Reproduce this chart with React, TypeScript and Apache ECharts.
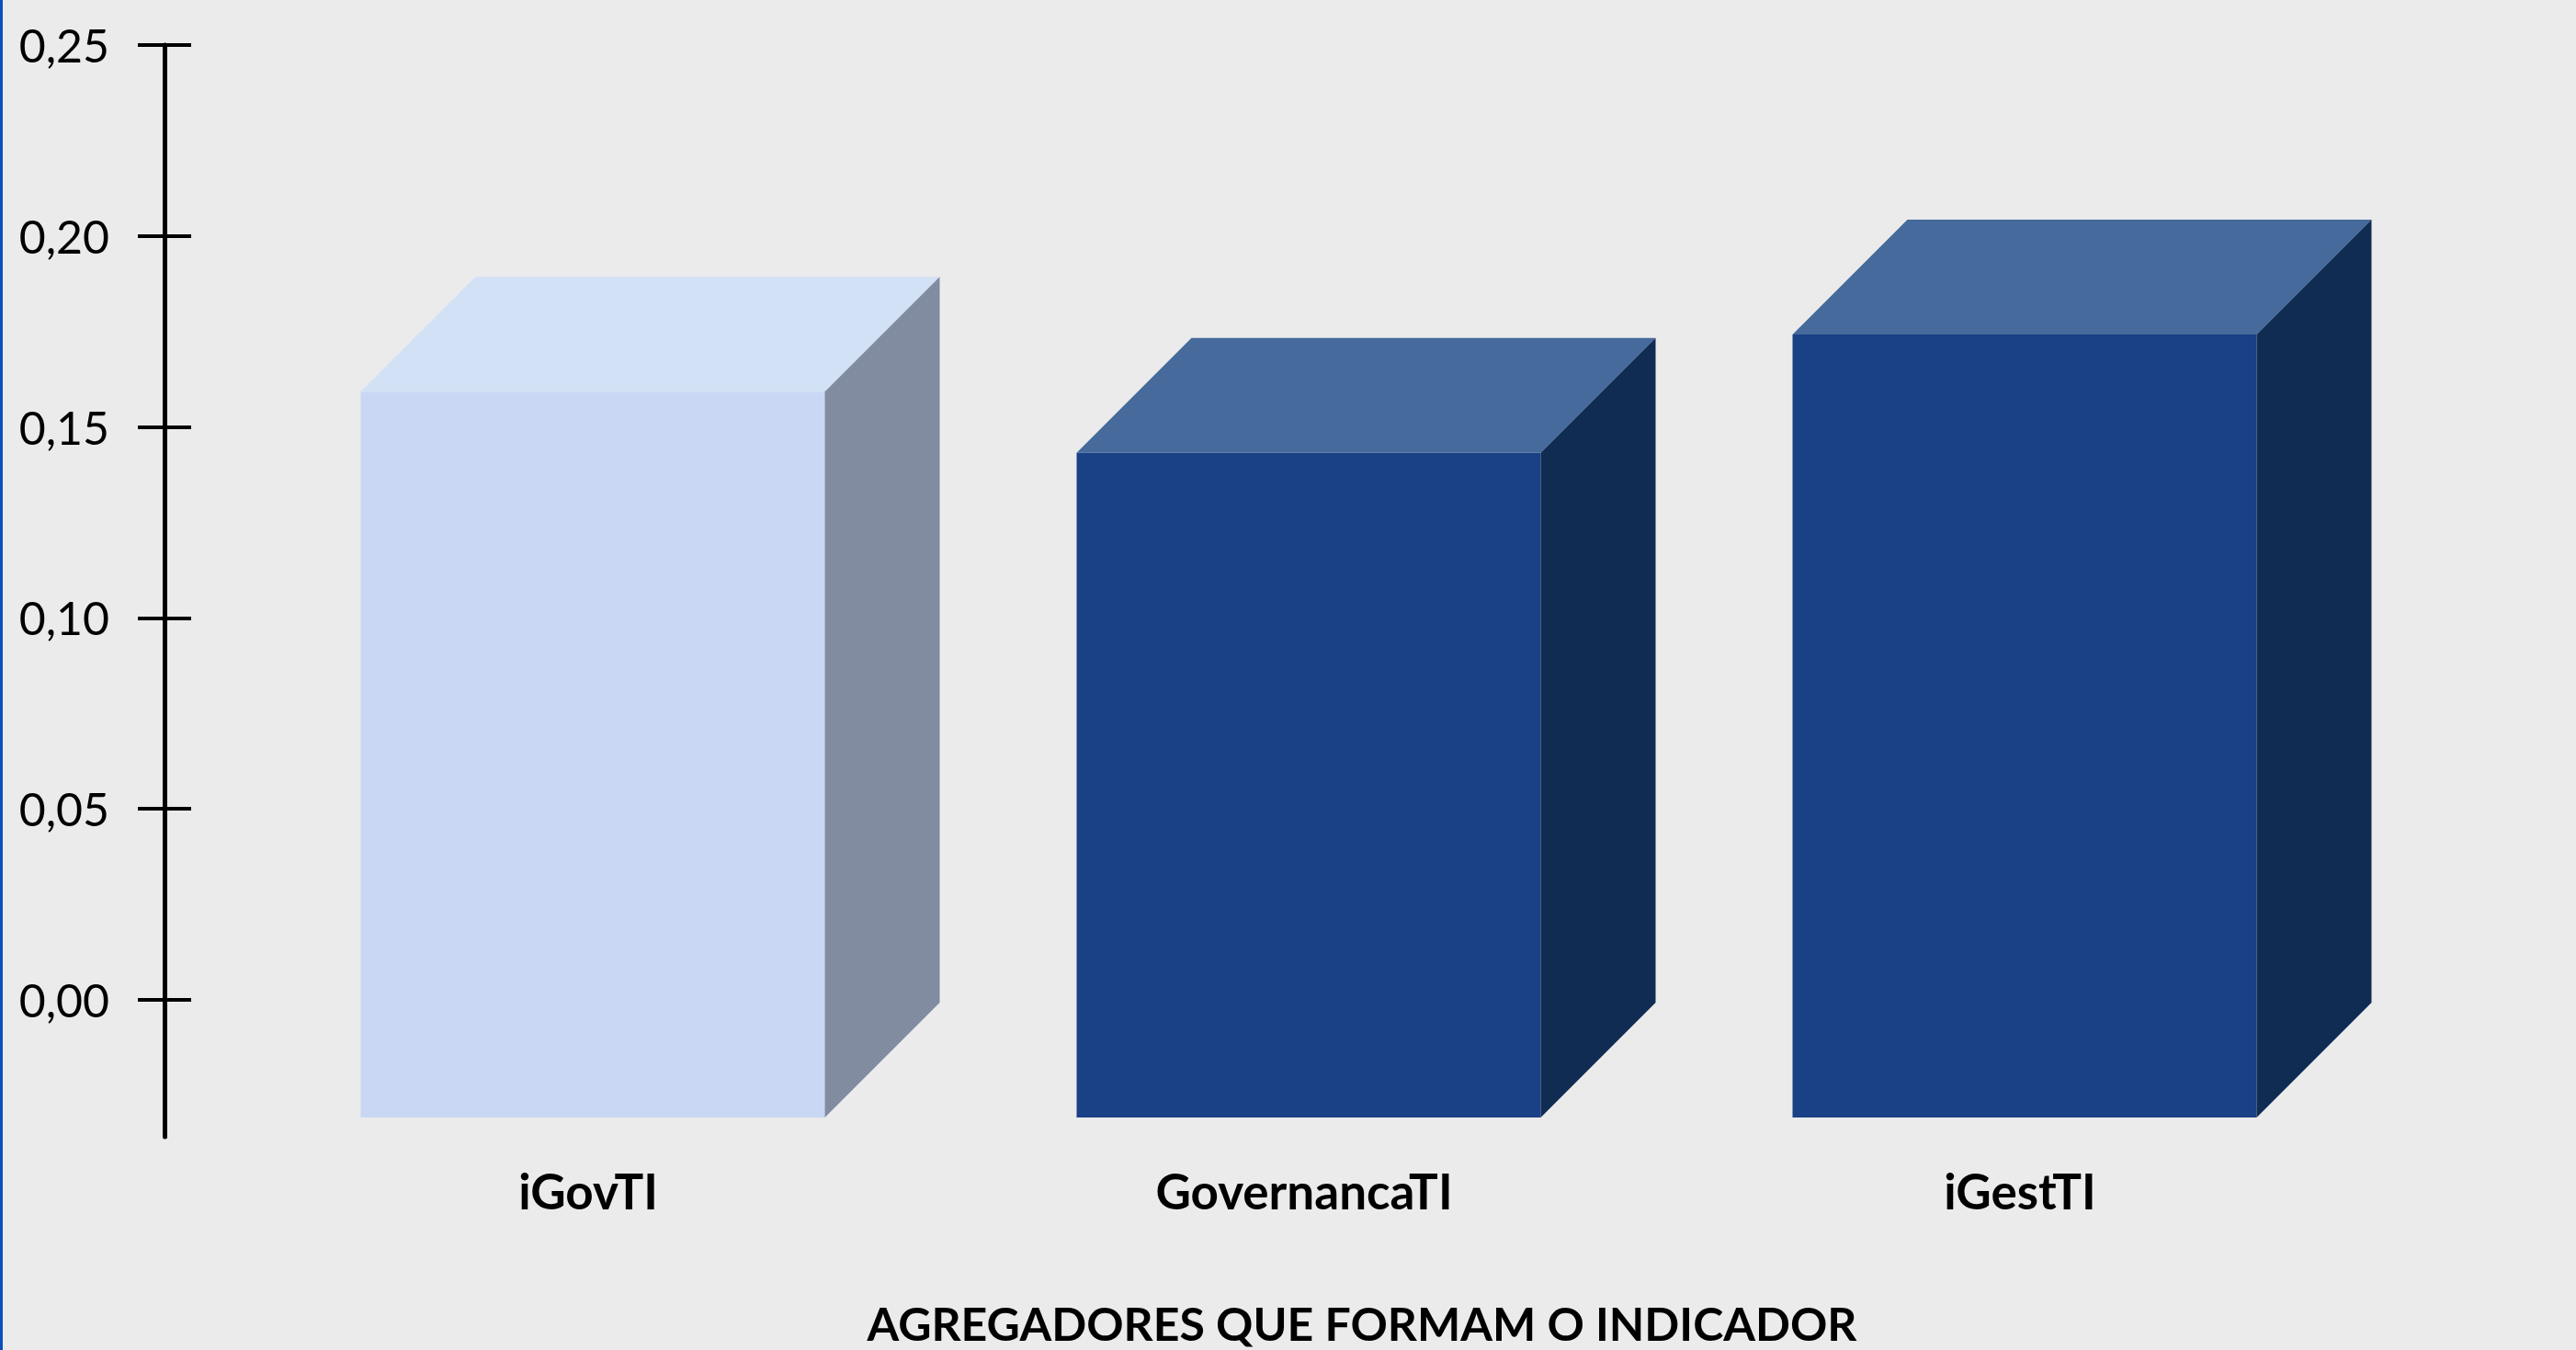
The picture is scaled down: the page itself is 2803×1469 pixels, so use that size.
import React, { useEffect, useRef } from "react";
import * as echarts from "echarts";

const categories = ["iGovTI", "GovernancaTI", "iGestTI"];
const values = [0.19, 0.174, 0.205];
const frontColors = ["#C9D7F4", "#1A4086", "#1A4086"];
const topColors = ["#D2E1F6", "#456A9B", "#456A9B"];
const sideColors = ["#818CA1", "#102C53", "#102C53"];
const axisTitle = "AGREGADORES QUE FORMAM O INDICADOR";

const FONT = "Lato, Carlito, 'Open Sans', sans-serif";

export default function App() {
  const ref = useRef<HTMLDivElement>(null);

  useEffect(() => {
    if (!ref.current) return;
    const chart = echarts.init(ref.current, null, { renderer: "svg" });
    const FRONT_RATIO = 505 / 779;
    const DEPTH_RATIO = 125 / 779;
    const FLOOR = 3;

    const option: any = {
      animation: false,
      backgroundColor: "#EBEBEB",
      textStyle: { fontFamily: FONT },
      grid: [
        { left: 255.5, right: 210.5, top: 49, bottom: 381, containLabel: false },
        { left: 179, width: 10, top: 49, bottom: 232, containLabel: false },
      ],
      xAxis: [
        {
          type: "category",
          gridIndex: 0,
          data: categories,
          axisLine: { show: false },
          axisTick: { show: false },
          splitLine: { show: false },
          axisLabel: {
            color: "#000",
            fontFamily: FONT,
            fontSize: 53,
            fontWeight: "bold",
            lineHeight: 53,
            margin: 181,
            padding: [0, 10, 0, 0],
          },
        },
        { type: "value", gridIndex: 1, show: false, min: 0, max: 1 },
      ],
      yAxis: [
        {
          type: "value",
          gridIndex: 0,
          position: "left",
          min: 0,
          max: 0.25,
          interval: 0.05,
          offset: 76.5,
          axisLine: { show: false },
          axisTick: { show: true, length: 29, lineStyle: { color: "#000", width: 4 } },
          splitLine: { show: false },
          axisLabel: {
            color: "#000",
            fontFamily: FONT,
            fontSize: 50,
            margin: 60,
            formatter: (v: number) => v.toFixed(2).replace(".", ","),
          },
        },
        {
          type: "value",
          gridIndex: 0,
          position: "left",
          min: 0,
          max: 0.25,
          interval: 0.05,
          offset: 76.5,
          axisLine: { show: false },
          axisTick: { show: true, inside: true, length: 29, lineStyle: { color: "#000", width: 4 } },
          splitLine: { show: false },
          axisLabel: { show: false },
        },
        {
          type: "value",
          gridIndex: 1,
          position: "left",
          min: 0,
          max: 1,
          axisLine: { show: true, lineStyle: { color: "#000", width: 5 } },
          axisTick: { show: false },
          axisLabel: { show: false },
          splitLine: { show: false },
        },
      ],
      series: [
        {
          type: "custom",
          xAxisIndex: 0,
          yAxisIndex: 0,
          clip: false,
          data: values.map((v, i) => [i, v]),
          renderItem: (params: any, api: any) => {
            const i = api.value(0);
            const v = api.value(1);
            const top = api.coord([i, v]);
            const base = api.coord([i, 0]);
            const band = api.size([1, 0])[0];
            const w = band * FRONT_RATIO;
            const d = band * DEPTH_RATIO;
            const L = top[0] - w / 2;
            const R = top[0] + w / 2;
            const fT = top[1] + FLOOR + d;
            const fB = base[1] + FLOOR + d;
            return {
              type: "group",
              children: [
                {
                  type: "polygon",
                  shape: { points: [[L, fT], [R, fT], [R, fB], [L, fB]] },
                  style: { fill: frontColors[i] },
                },
                {
                  type: "polygon",
                  shape: { points: [[L, fT], [L + d, fT - d], [R + d, fT - d], [R, fT]] },
                  style: { fill: topColors[i] },
                },
                {
                  type: "polygon",
                  shape: { points: [[R, fT], [R + d, fT - d], [R + d, fB - d], [R, fB]] },
                  style: { fill: sideColors[i] },
                },
              ],
            };
          },
        },
      ],
      graphic: [
        {
          type: "rect",
          left: 0,
          top: 0,
          shape: { x: 0, y: 0, width: 3, height: 1469 },
          style: { fill: "#0A50B8" },
        },
        {
          type: "text",
          x: 1482,
          y: 1440,
          style: {
            text: axisTitle,
            fill: "#000",
            font: `bold 50px ${FONT}`,
            textAlign: "center",
            textVerticalAlign: "middle",
          },
        },
      ],
    };
    chart.setOption(option);
    return () => chart.dispose();
  }, []);

  return (
    <div
      ref={ref}
      style={{ position: "absolute", left: 0, top: 0, width: 2803, height: 1469 }}
    />
  );
}
